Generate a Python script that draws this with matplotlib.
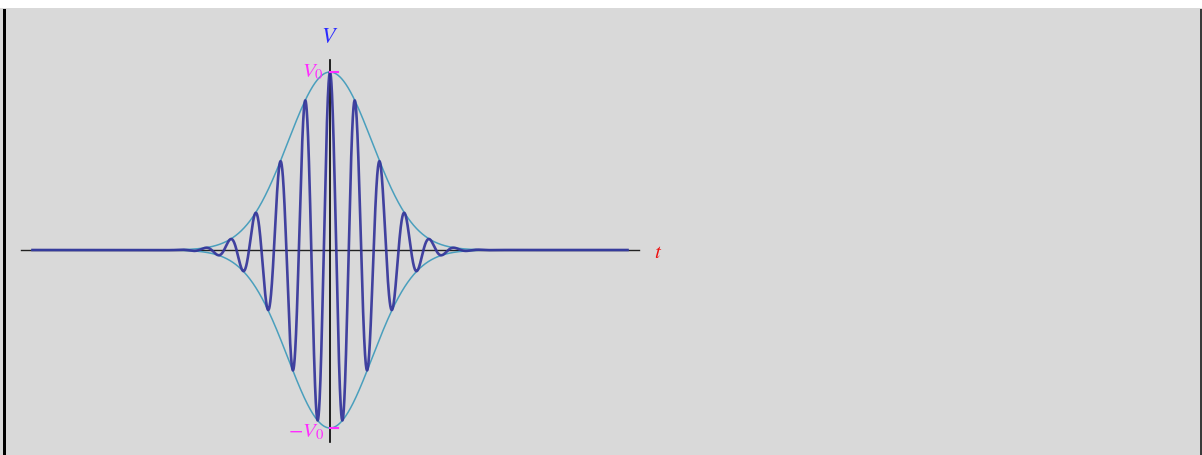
import numpy as np
import matplotlib
matplotlib.use("Agg")
import matplotlib.pyplot as plt
from matplotlib.patches import Rectangle

# Wave packet parameters: V(t) = V0 * exp(-(t/tau)^2) * cos(omega * t)
V0 = 1.0
tau = 1.0
omega = 15.0
t_start, t_end = -5.0, 5.0
axis_t = (-5.2, 5.2)
axis_v = (-1.08, 1.07)
tick_labels = {"V0": r"$V_0$", "-V0": r"$-V_0$"}

plt.rcParams["mathtext.fontset"] = "stix"

W, H = 1202, 455
fig = plt.figure(figsize=(W / 100, H / 100), dpi=100)
fig.patch.set_facecolor("white")

def fx(px):
    return px / W

def fy(py):
    return 1 - py / H

# grey panel and frame lines
fig.patches.append(Rectangle((fx(0), fy(H)), 1, fy(8) - fy(H), transform=fig.transFigure,
                             facecolor="#d9d9d9", edgecolor="none", zorder=0))
fig.patches.append(Rectangle((fx(3), fy(H)), fx(2.5), fy(9) - fy(H), transform=fig.transFigure,
                             facecolor="black", edgecolor="none", zorder=1))
fig.patches.append(Rectangle((fx(1200), fy(H)), fx(2), fy(9) - fy(H), transform=fig.transFigure,
                             facecolor="#3a3a3a", edgecolor="none", zorder=1))

ax = fig.add_axes([0, 0, 1, 1])
ax.set_zorder(5)
ax.set_facecolor("none")
ax.axis("off")

# pixel mapping: t=0 at x=330, 59.5 px per unit; V=0 at y=250, 178 px per unit
sx, sy = 59.5, 178.0
ax.set_xlim((0 - 330) / sx, (W - 330) / sx)
ax.set_ylim((250 - H) / sy, 250 / sy)

t = np.linspace(t_start, t_end, 4000)
env = V0 * np.exp(-(t / tau) ** 2)
v = env * np.cos(omega * t)

# axes
ax.plot(axis_t, [0, 0], color="#222222", lw=1.0, zorder=2)
ax.plot([0, 0], axis_v, color="black", lw=1.2, zorder=2)

# envelope and signal
ax.plot(t, env, color="#4a9fbd", lw=1.1, zorder=3)
ax.plot(t, -env, color="#4a9fbd", lw=1.1, zorder=3)
ax.plot(t, v, color="#34349a", lw=1.9, alpha=0.92, zorder=4)

# V0 ticks
mag = "#ff2cff"
ax.plot([0, 8 / sx], [V0, V0], color=mag, lw=1.5, zorder=5)
ax.plot([0, 8 / sx], [-V0, -V0], color=mag, lw=1.5, zorder=5)

ax.text(-6 / sx, V0, tick_labels["V0"], color=mag, fontsize=15, ha="right", va="center")
ax.text(-6 / sx, -V0 - 4 / sy, tick_labels["-V0"], color=mag, fontsize=15, ha="right", va="center")

ax.text(0, 213 / sy, r"$V$", color="#2a2aff", fontsize=16, ha="center", va="center")
ax.text(328 / sx, -2 / sy, r"$t$", color="#ee1111", fontsize=15, ha="center", va="center")

fig.savefig("out.png", dpi=100, facecolor=fig.get_facecolor())
